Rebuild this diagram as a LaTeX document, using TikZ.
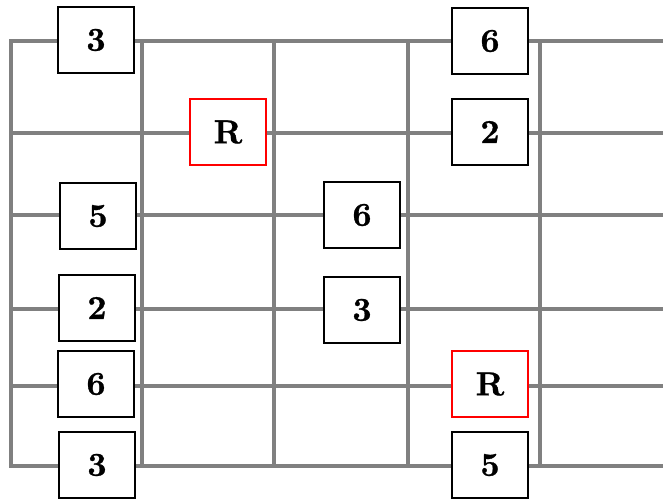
\documentclass[tikz,border=0pt]{standalone}
\usepackage{fontspec}
\newfontfamily\heavyfont{lmroman10-bold.otf}[FakeBold=0.8]
\begin{document}
\begin{tikzpicture}[x=0.75pt,y=-0.75pt,
  gridline/.style={draw={rgb,255:red,128;green,128;blue,128},line width=3pt,line cap=rect},
  note/.style={draw=black,line width=1.6pt,fill=white,minimum width=57pt,minimum height=49pt,
    inner sep=0pt,font=\heavyfont\fontsize{25}{25}\selectfont},
  root/.style={note,draw=red}]
\useasboundingbox[fill=white] (0,0) rectangle (663,500);
\begin{scope}
\clip (0,0) rectangle (663,500);
\foreach \y in {41,133,215,309,386,466} \draw[gridline] (11,\y) -- (670,\y);
\foreach \x in {11,142,274,408,540} \draw[gridline] (\x,41) -- (\x,466);
\end{scope}
\node[note] (n1) at (96,40) {3};
\node[note] (n2) at (490,41) {6};
\node[root] (n3) at (228,132) {R};
\node[note] (n4) at (490,132) {2};
\node[note] (n5) at (98,216) {5};
\node[note] (n6) at (362,215) {6};
\node[note] (n7) at (97,308) {2};
\node[note] (n8) at (362,310) {3};
\node[note] (n9) at (96,384) {6};
\node[root] (n10) at (490,384) {R};
\node[note] (n11) at (97,465) {3};
\node[note] (n12) at (490,465) {5};
\end{tikzpicture}
\end{document}
